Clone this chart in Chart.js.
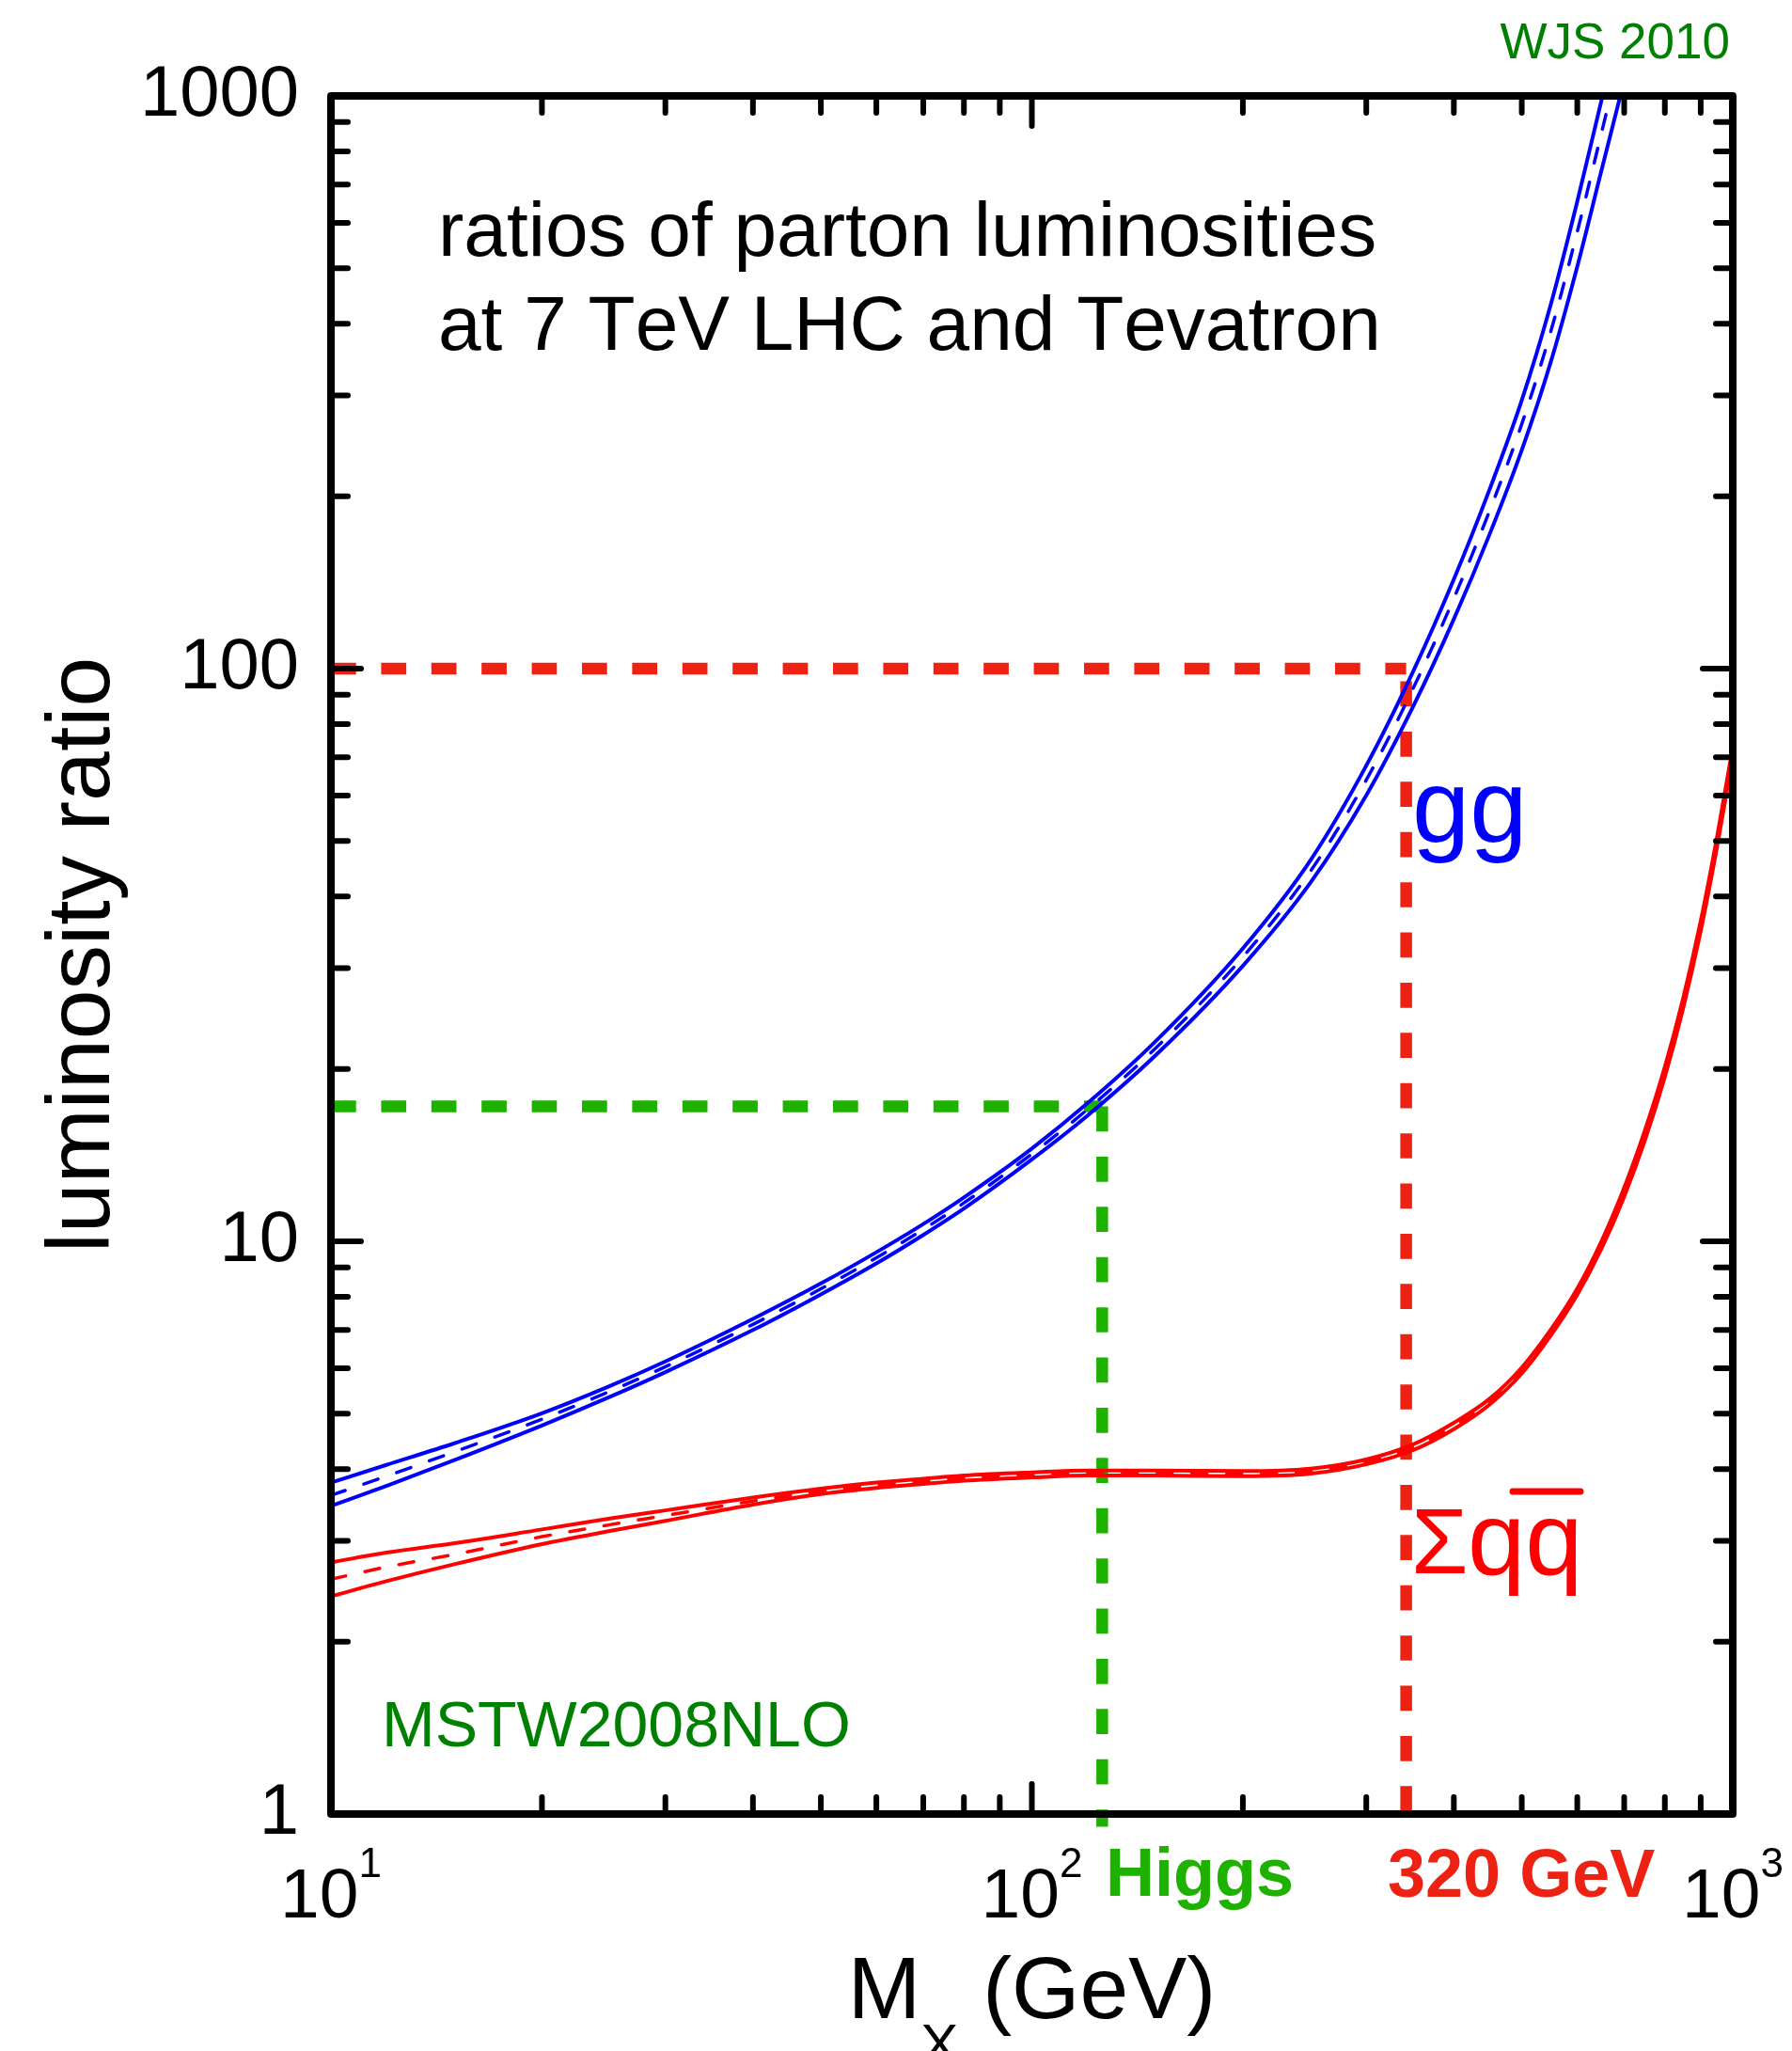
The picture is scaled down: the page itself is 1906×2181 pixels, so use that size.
<!DOCTYPE html>
<html>
<head>
<meta charset="utf-8">
<title>ratios of parton luminosities</title>
<script src="https://cdn.jsdelivr.net/npm/chart.js@4.4.0/dist/chart.umd.min.js"></script>
<style>
  html, body { margin: 0; padding: 0; background: #ffffff; }
  #wrap { width: 1906px; height: 2181px; }
</style>
</head>
<body>
<div id="wrap"><canvas id="lumiChart" width="1906" height="2181"></canvas></div>
<script>
// Masses (GeV) and luminosity ratios
const massGg = [10, 12, 15, 20, 25, 30, 40, 50, 60, 70, 80, 100, 120, 150, 200, 250, 300, 350, 400, 450, 500, 550, 600, 650, 700];
const ggCentral = [3.60, 3.89, 4.29, 4.89, 5.47, 6.04, 7.16, 8.26, 9.36, 10.49, 11.67, 14.21, 16.99, 21.71, 31.37, 44.36, 63.9, 92.4, 132.6, 188.8, 267.4, 387.8, 578.9, 864, 1252];
const ggUpper = [3.79, 4.07, 4.44, 5.01, 5.59, 6.17, 7.32, 8.44, 9.57, 10.72, 11.93, 14.52, 17.41, 22.32, 32.47, 46.36, 67.7, 98.9, 143.2, 205.8, 294.1, 432.4, 654.2, 985, 1440];
const ggLower = [3.45, 3.74, 4.15, 4.77, 5.35, 5.91, 7.00, 8.08, 9.15, 10.26, 11.41, 13.90, 16.57, 21.10, 30.27, 42.36, 60.07, 85.9, 122.0, 171.8, 240.7, 343.2, 503.6, 743, 1064];

const massQq = [10, 12, 15, 20, 25, 30, 40, 50, 60, 70, 80, 100, 120, 150, 200, 250, 300, 350, 400, 450, 500, 550, 600, 650, 700, 750, 800, 850, 900, 950, 1000];
const qqCentral = [2.57, 2.70, 2.84, 3.05, 3.20, 3.32, 3.52, 3.66, 3.75, 3.81, 3.86, 3.91, 3.94, 3.94, 3.93, 3.97, 4.12, 4.37, 4.76, 5.25, 5.95, 6.93, 8.17, 9.87, 12.19, 15.37, 19.76, 26.11, 35.52, 49.96, 71.55];
const qqUpper = [2.75, 2.86, 2.97, 3.14, 3.28, 3.39, 3.57, 3.70, 3.79, 3.85, 3.90, 3.95, 3.98, 3.98, 3.97, 4.01, 4.16, 4.42, 4.82, 5.31, 6.02, 7.01, 8.27, 10.02, 12.41, 15.68, 20.16, 26.63, 36.23, 50.96, 72.98];
const qqLower = [2.40, 2.55, 2.73, 2.96, 3.12, 3.25, 3.47, 3.62, 3.71, 3.77, 3.82, 3.87, 3.90, 3.90, 3.89, 3.93, 4.08, 4.32, 4.70, 5.19, 5.88, 6.85, 8.07, 9.72, 11.97, 15.06, 19.36, 25.59, 34.81, 48.96, 70.12];

// Marker lines (Higgs and 320 GeV)
const higgsMass = 126;
const higgsRatio = 17.2;
const heavyMass = 342;
const heavyRatio = 100;
const heavyDropStart = 95;
const markerFloor = 0.95;

// Axes
const xRange = [10, 1000];
const yRange = [1, 1000];
const xTickLabels = [10, 100, 1000];
const yTickLabels = [1, 10, 100, 1000];
const xMajorTicks = [100];
const xMinorTicks = [20, 30, 40, 50, 60, 70, 80, 90, 200, 300, 400, 500, 600, 700, 800, 900];
const yMajorTicks = [10, 100];
const yMinorTicks = [2, 3, 4, 5, 6, 7, 8, 9, 20, 30, 40, 50, 60, 70, 80, 90, 200, 300, 400, 500, 600, 700, 800, 900];

const FONT = '"Liberation Sans", Arial, Helvetica, sans-serif';
Chart.defaults.font.family = FONT;
Chart.defaults.color = '#000000';

const BLUE = '#0000ff';
const RED = '#ff0000';
const MARK_GREEN = '#1fb100';
const MARK_RED = '#ed2212';
const TEXT_GREEN = '#008000';

function points(xs, ys) {
    return xs.map((m, i) => ({ x: m, y: ys[i] }));
}

function curve(xs, ys, color, dashed) {
    return {
        data: points(xs, ys),
        borderColor: color,
        borderWidth: dashed ? 3.5 : 4,
        borderDash: dashed ? [16, 21] : [],
        borderCapStyle: 'round',
        pointRadius: 0,
        cubicInterpolationMode: 'monotone',
        fill: false,
        clip: 0
    };
}

function marker(data, color) {
    return {
        data: data,
        borderColor: color,
        borderWidth: 12.5,
        borderDash: [26.7, 26.7],
        borderCapStyle: 'butt',
        pointRadius: 0,
        tension: 0,
        fill: false,
        clip: false
    };
}

// Frame, inward ticks and all the free text
const decorPlugin = {
    id: 'decor',
    afterDraw(chart) {
        const { ctx, chartArea: a, scales } = chart;
        const sx = scales.x, sy = scales.y;
        ctx.save();
        ctx.fontKerning = 'none';

        ctx.strokeStyle = '#000000';
        ctx.lineCap = 'round';
        ctx.lineWidth = 6;
        const seg = (x1, y1, x2, y2) => {
            ctx.beginPath();
            ctx.moveTo(x1, y1);
            ctx.lineTo(x2, y2);
            ctx.stroke();
        };
        const yTick = (v, len) => {
            const p = sy.getPixelForValue(v);
            seg(a.left, p, a.left + len, p);
            seg(a.right, p, a.right - len, p);
        };
        const xTick = (v, len) => {
            const p = sx.getPixelForValue(v);
            seg(p, a.bottom, p, a.bottom - len);
            seg(p, a.top, p, a.top + len);
        };
        yMinorTicks.forEach(v => yTick(v, 18));
        yMajorTicks.forEach(v => yTick(v, 32));
        xMinorTicks.forEach(v => xTick(v, 18));
        xMajorTicks.forEach(v => xTick(v, 32));

        // frame
        ctx.lineWidth = 8;
        ctx.lineJoin = 'round';
        ctx.strokeRect(a.left, a.top, a.right - a.left, a.bottom - a.top);

        // x tick labels: 10 with a superscript exponent
        ctx.fillStyle = '#000000';
        ctx.textBaseline = 'alphabetic';
        ctx.textAlign = 'left';
        xTickLabels.forEach(v => {
            const exp = String(Math.round(Math.log10(v)));
            ctx.font = '75px ' + FONT;
            const wBase = ctx.measureText('10').width;
            ctx.font = '44px ' + FONT;
            const wExp = ctx.measureText(exp).width;
            const start = sx.getPixelForValue(v) - (wBase + wExp) / 2;
            ctx.font = '75px ' + FONT;
            ctx.fillText('10', start, a.bottom + 110);
            ctx.font = '44px ' + FONT;
            ctx.fillText(exp, start + wBase, a.bottom + 67);
        });

        // x axis title: M_X (GeV)
        ctx.font = '93px ' + FONT;
        const wM = ctx.measureText('M').width;
        const wRest = ctx.measureText(' (GeV)').width;
        ctx.font = '60px ' + FONT;
        const wX = ctx.measureText('X').width;
        const tx = (a.left + a.right) / 2 - (wM + wX + wRest) / 2;
        ctx.font = '93px ' + FONT;
        ctx.fillText('M', tx, 2146);
        ctx.font = '60px ' + FONT;
        ctx.fillText('X', tx + wM, 2194);
        ctx.font = '93px ' + FONT;
        ctx.fillText(' (GeV)', tx + wM + wX, 2146);

        // plot title
        ctx.font = '82px ' + FONT;
        ctx.fillText('ratios of parton luminosities', 466, 272);
        ctx.fillText('at 7 TeV LHC and Tevatron', 466, 372);

        // curve labels
        ctx.fillStyle = BLUE;
        ctx.font = '110px ' + FONT;
        ctx.fillText('gg', 1502, 895);

        ctx.fillStyle = RED;
        ctx.font = '98px ' + FONT;
        ctx.fillText('\u03A3', 1501, 1673);
        ctx.font = '110px ' + FONT;
        ctx.fillText('qq', 1561, 1674);
        ctx.strokeStyle = RED;
        ctx.lineWidth = 7;
        seg(1609, 1586, 1681, 1586);

        // marker labels under the axis
        ctx.font = 'bold 72px ' + FONT;
        ctx.fillStyle = MARK_GREEN;
        ctx.fillText('Higgs', 1176, 2016);
        ctx.fillStyle = MARK_RED;
        ctx.fillText('320 GeV', 1476, 2017);

        // small green notes
        ctx.fillStyle = TEXT_GREEN;
        ctx.font = '68px ' + FONT;
        ctx.fillText('MSTW2008NLO', 406, 1857);
        ctx.font = '53px ' + FONT;
        ctx.textAlign = 'right';
        ctx.fillText('WJS 2010', 1840, 62);

        ctx.restore();
    }
};

const ctx = document.getElementById('lumiChart');
new Chart(ctx, {
    type: 'line',
    data: {
        datasets: [
            curve(massGg, ggUpper, BLUE, false),
            curve(massGg, ggCentral, BLUE, true),
            curve(massGg, ggLower, BLUE, false),
            curve(massQq, qqUpper, RED, false),
            curve(massQq, qqCentral, RED, true),
            curve(massQq, qqLower, RED, false),
            marker([{ x: xRange[0], y: higgsRatio }, { x: higgsMass, y: higgsRatio }], MARK_GREEN),
            marker([{ x: higgsMass, y: higgsRatio }, { x: higgsMass, y: markerFloor }], MARK_GREEN),
            marker([{ x: xRange[0], y: heavyRatio }, { x: heavyMass, y: heavyRatio }], MARK_RED),
            marker([{ x: heavyMass, y: heavyDropStart }, { x: heavyMass, y: markerFloor }], MARK_RED)
        ]
    },
    options: {
        responsive: false,
        animation: false,
        events: [],
        layout: {
            padding: { top: 102, right: 63, left: 0, bottom: 0 }
        },
        plugins: {
            legend: { display: false },
            tooltip: { enabled: false }
        },
        scales: {
            x: {
                type: 'logarithmic',
                min: xRange[0],
                max: xRange[1],
                grid: { display: false, drawTicks: false },
                border: { display: false },
                ticks: { display: false },
                afterFit(scale) {
                    scale.height = 252;
                }
            },
            y: {
                type: 'logarithmic',
                min: yRange[0],
                max: yRange[1],
                grid: { display: false, drawTicks: false },
                border: { display: false },
                ticks: {
                    padding: 34,
                    autoSkip: false,
                    font: { size: 76 },
                    color: '#000000',
                    callback: (value) => String(value)
                },
                afterBuildTicks(scale) {
                    scale.ticks = yTickLabels.map(v => ({ value: v }));
                },
                title: {
                    display: true,
                    text: 'luminosity ratio',
                    font: { size: 95 },
                    color: '#000000',
                    padding: { top: 33, bottom: 0 }
                },
                afterFit(scale) {
                    scale.width = 352;
                }
            }
        }
    },
    plugins: [decorPlugin]
});
</script>
</body>
</html>
